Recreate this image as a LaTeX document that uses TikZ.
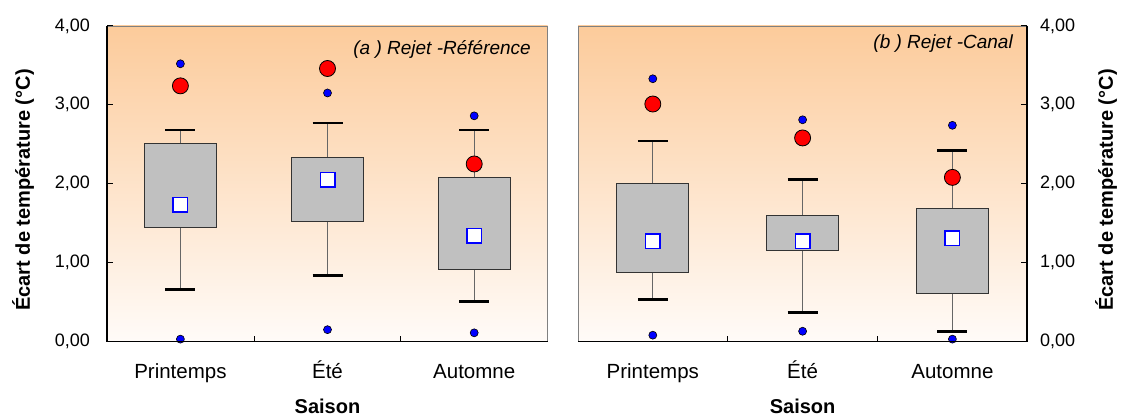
\documentclass[tikz,border=0pt]{standalone}
\usepackage{fontspec}
\setmainfont{Liberation Sans}

\definecolor{peach}{RGB}{252,203,155}
\definecolor{paleend}{RGB}{255,251,248}
\definecolor{boxgray}{RGB}{192,192,192}
\definecolor{framegray}{RGB}{128,128,128}

\tikzset{
  ticklabel/.style={font=\fontsize{18}{20}\selectfont, inner sep=0pt},
  catlabel/.style={font=\fontsize{20.5}{22}\selectfont, inner sep=0pt, anchor=base},
  axistitle/.style={font=\bfseries\fontsize{20}{22}\selectfont, inner sep=0pt},
  paneltitle/.style={font=\itshape\fontsize{19}{21}\selectfont, inner sep=0pt, anchor=base east},
  whisker/.style={draw=black!60, line width=1pt},
  whiskercap/.style={draw=black, line width=2.6pt},
  boxq/.style={fill=boxgray, draw=black!80, line width=1pt},
  meanmark/.style={rectangle, minimum size=14.5pt, inner sep=0pt, fill=white, draw=blue, line width=1.5pt},
  reddot/.style={circle, minimum size=16pt, inner sep=0pt, fill=red, draw=black, line width=0.8pt},
  bluedot/.style={circle, minimum size=8pt, inner sep=0pt, fill=blue, draw=black, line width=0.6pt}
}

% one box: centre, q1, q3, low, high, mean, red dot, upper and lower blue dots
\newcommand{\seasonbox}[9]{%
  \draw[whisker] (#1,#4) -- (#1,#2) (#1,#3) -- (#1,#5);
  \draw[whiskercap] (#1-15,#4) -- (#1+15,#4) (#1-15,#5) -- (#1+15,#5);
  \draw[boxq] (#1-36,#2) rectangle (#1+36,#3);
  \node[meanmark] at (#1,#6) {};
  \node[reddot] at (#1,#7) {};
  \node[bluedot] at (#1,#8) {};
  \node[bluedot] at (#1,#9) {};
}

\begin{document}
\begin{tikzpicture}[x=1pt, y=1pt]
    \useasboundingbox (0,0) rectangle (1121,417);

    % Backgrounds
    \shade[top color=peach, bottom color=paleend] (107,75.5) rectangle (547.5,391);
    \shade[top color=peach, bottom color=paleend] (578,75.5) rectangle (1027,391);
    \draw[framegray, line width=0.8pt] (107,391) -- (547.5,391) -- (547.5,75.5);
    \draw[framegray, line width=0.8pt] (1027,391) -- (578,391) -- (578,75.5);

    \begin{scope}[yshift=75.5pt, y=78.9pt]
        % Panel (a)
        \seasonbox{180.4}{1.44}{2.51}{0.66}{2.68}{1.73}{3.24}{3.52}{0.03}
        \seasonbox{327.5}{1.52}{2.33}{0.84}{2.77}{2.05}{3.46}{3.15}{0.15}
        \seasonbox{474.2}{0.91}{2.08}{0.51}{2.68}{1.34}{2.25}{2.86}{0.11}
        % Panel (b)
        \seasonbox{652.8}{0.87}{2.00}{0.53}{2.54}{1.27}{3.01}{3.33}{0.08}
        \seasonbox{802.6}{1.15}{1.60}{0.37}{2.05}{1.27}{2.58}{2.81}{0.13}
        \seasonbox{952.4}{0.61}{1.68}{0.13}{2.42}{1.31}{2.08}{2.74}{0.03}

        % Axes
        \draw[line width=1.3pt] (107,4) -- (107,0) -- (547.5,0);
        \draw[line width=1.3pt] (578,0) -- (1027,0) -- (1027,4);
        \foreach \v in {0,...,4} {
            \draw[line width=1pt] (107,\v) -- (113,\v);
            \draw[line width=1pt] (1027,\v) -- (1021,\v);
            \node[ticklabel, anchor=east] (tla\v) at (90,\v) {\v,00};
            \node[ticklabel, anchor=west] (tlb\v) at (1040,\v) {\v,00};
        }
        \foreach \t in {254,400.6,727.7,877.5}
            \draw[line width=0.8pt] (\t,0) -- (\t,0.07);
    \end{scope}

    % Labels
    \node[catlabel] (printa) at (180.4,38) {Printemps};
    \node[catlabel] (etea) at (327.5,38) {Été};
    \node[catlabel] (automnea) at (474.2,38) {Automne};
    \node[catlabel] (printb) at (652.8,38) {Printemps};
    \node[catlabel] (eteb) at (802.6,38) {Été};
    \node[catlabel] (automneb) at (952.4,38) {Automne};

    \node[axistitle, anchor=base] (saisona) at (327.5,3) {Saison};
    \node[axistitle, anchor=base] (saisonb) at (802.6,3) {Saison};
    \node[axistitle, rotate=90] (ecarta) at (23,227) {Écart de température (°C)};
    \node[axistitle, rotate=90] (ecartb) at (1106,227) {Écart de température (°C)};

    \node[paneltitle] (titrea) at (531,362.7) {(a ) Rejet -Référence};
    \node[paneltitle] (titreb) at (1013,368) {(b ) Rejet -Canal};

\end{tikzpicture}
\end{document}
